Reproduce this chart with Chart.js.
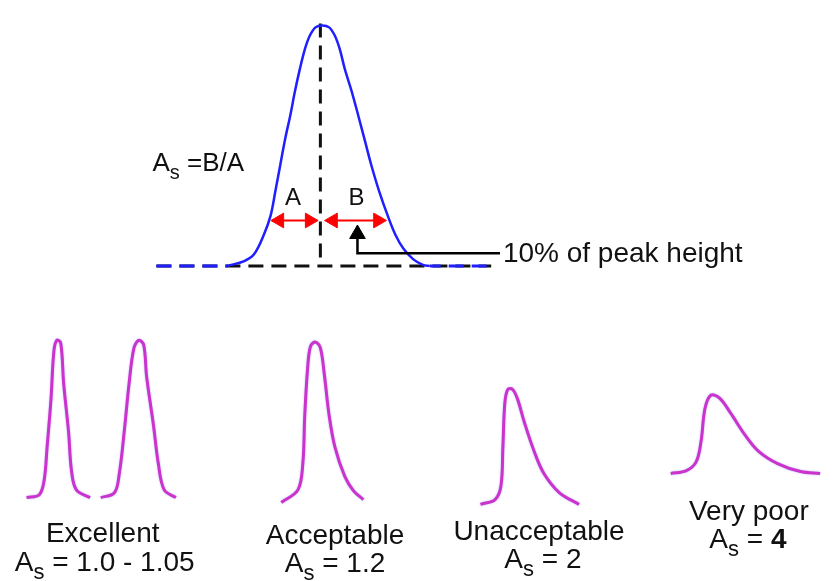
<!DOCTYPE html>
<html>
<head>
<meta charset="utf-8">
<script src="https://cdn.jsdelivr.net/npm/chart.js@4.4.0/dist/chart.umd.min.js"></script>
<style>
  html, body { margin: 0; padding: 0; background: #fff; }
</style>
</head>
<body>
<canvas id="peaks" width="834" height="581"></canvas>
<script>
// all values, in pixel units (y grows downward)

// reference peak (blue)
const mainPeakX = [223, 240, 250, 260, 267, 272, 277, 282, 287, 292, 297, 302, 307, 313, 320,
                   327, 333, 338, 343, 350, 357, 363, 370, 378, 387, 395, 403, 413, 423, 430];
const mainPeakY = [265, 260, 253, 233, 213, 187, 160, 133, 110, 84, 61, 41, 27, 18, 16,
                   18, 27, 41, 61, 84, 110, 133, 160, 187, 213, 233, 247, 258, 264, 265];
const tailLeftX  = [150, 223];
const tailRightX = [430, 493];
const baseY      = [265, 265];
const baselineX  = [150, 493];
const centerX    = [318, 318];
const centerY    = [14, 265];

// A / B half widths at 10% height (arrow head centres)
const arrowAX = [276, 307];
const arrowBX = [331, 377];
const arrowY  = [218, 218];

// pointer to the 10% line
const pointerX = [356, 356, 502];
const pointerY = [232, 252, 252];

// example peaks (magenta)
const excellent1X = [17, 30, 35, 38, 42, 45, 48, 52, 55, 60, 63, 68, 82];
const excellent1Y = [505, 502, 487, 453, 403, 353, 342, 345, 387, 437, 477, 497, 505];
const excellent2X = [93, 107, 112, 117, 122, 127, 132, 137, 140, 147, 152, 158, 170];
const excellent2Y = [505, 500, 480, 437, 387, 350, 342, 347, 380, 430, 470, 497, 505];
const acceptableX = [278, 295, 300, 302, 305, 308, 313, 318, 322, 327, 333, 343, 352, 362];
const acceptableY = [510, 497, 470, 420, 370, 348, 344, 350, 377, 420, 453, 483, 498, 507];
const unacceptX   = [482, 497, 503, 505, 507, 510, 515, 520, 527, 537, 547, 563, 583];
const unacceptY   = [512, 507, 493, 453, 407, 393, 393, 403, 427, 457, 480, 500, 512];
const veryPoorX   = [677, 693, 703, 708, 712, 718, 727, 738, 753, 767, 787, 810, 830];
const veryPoorY   = [480, 477, 468, 447, 413, 399, 402, 417, 440, 457, 470, 478, 480];

// captions
const captions = [
  { x: 146, y: 167, align: 'left',   size: 26, segs: [['A'], ['s', 'sub'], [' =B/A']] },
  { x: 290, y: 202, align: 'center', size: 24, segs: [['A']] },
  { x: 355, y: 202, align: 'center', size: 24, segs: [['B']] },
  { x: 505, y: 261, align: 'left',   size: 28, segs: [['10% of peak height']] },
  { x: 95,  y: 551, align: 'center', size: 28, segs: [['Excellent']] },
  { x: 97,  y: 581, align: 'center', size: 28, segs: [['A'], ['s', 'sub'], [' = 1.0 - 1.05']] },
  { x: 333, y: 553, align: 'center', size: 28, segs: [['Acceptable']] },
  { x: 333, y: 582, align: 'center', size: 28, segs: [['A'], ['s', 'sub'], [' = 1.2']] },
  { x: 542, y: 549, align: 'center', size: 28, segs: [['Unacceptable']] },
  { x: 546, y: 578, align: 'center', size: 28, segs: [['A'], ['s', 'sub'], [' = 2']] },
  { x: 757, y: 528, align: 'center', size: 28, segs: [['Very poor']] },
  { x: 756, y: 557, align: 'center', size: 28, segs: [['A'], ['s', 'sub'], [' = '], ['4', 'bold']] }
];

const BLUE = '#1f1fff';
const MAGENTA = '#cc33cc';
const FONT = '"Liberation Sans", Arial, sans-serif';

const pts = (xs, ys) => xs.map((x, i) => ({ x, y: ys[i] }));

const line = (data, color, width, extra = {}) => Object.assign({
  data, showLine: true, borderColor: color, backgroundColor: color,
  borderWidth: width, pointRadius: 0, pointHoverRadius: 0, fill: false, tension: 0
}, extra);

const smooth = { tension: 0.35 };
const magenta = data => line(data, MAGENTA, 3, Object.assign({ glow: true }, smooth));

const glowPlugin = {
  id: 'glow',
  beforeDatasetDraw(chart, args) {
    const ds = chart.data.datasets[args.index];
    chart.ctx.save();
    if (ds.glow) {
      chart.ctx.shadowColor = 'rgba(130, 130, 255, 0.6)';
      chart.ctx.shadowBlur = 2;
    }
  },
  afterDatasetDraw(chart) {
    chart.ctx.restore();
  }
};

const captionPlugin = {
  id: 'captions',
  afterDatasetsDraw(chart) {
    const { ctx, scales } = chart;
    ctx.save();
    ctx.fillStyle = '#111';
    ctx.textBaseline = 'alphabetic';
    ctx.textAlign = 'left';
    captions.forEach(c => {
      const fontOf = s => {
        const size = s[1] === 'sub' ? Math.round(c.size * 0.78) : c.size;
        return (s[1] === 'bold' ? 'bold ' : '') + size + 'px ' + FONT;
      };
      let total = 0;
      c.segs.forEach(s => { ctx.font = fontOf(s); total += ctx.measureText(s[0]).width; });
      let px = scales.x.getPixelForValue(c.x);
      const py = scales.y.getPixelForValue(c.y);
      if (c.align === 'center') px -= total / 2;
      c.segs.forEach(s => {
        ctx.font = fontOf(s);
        ctx.fillText(s[0], px, s[1] === 'sub' ? py + c.size * 0.28 : py);
        px += ctx.measureText(s[0]).width;
      });
    });
    ctx.restore();
  }
};

new Chart(document.getElementById('peaks'), {
  type: 'scatter',
  data: {
    datasets: [
      line(pts(arrowAX, arrowY), '#ff0000', 2, { pointStyle: 'triangle', pointRadius: 8.5, pointRotation: [270, 90], pointBorderWidth: 1 }),
      line(pts(arrowBX, arrowY), '#ff0000', 2, { pointStyle: 'triangle', pointRadius: 8.5, pointRotation: [270, 90], pointBorderWidth: 1 }),
      line(pts(pointerX, pointerY), '#000', 2.5, { pointStyle: 'triangle', pointRadius: [9, 0, 0], pointRotation: 0, pointBorderWidth: 1 }),
      line(pts(mainPeakX, mainPeakY), BLUE, 2.5, smooth),
      line(pts(tailLeftX, baseY), BLUE, 3, { borderDash: [15, 8] }),
      line(pts(tailRightX, baseY), BLUE, 3, { borderDash: [15, 8], borderDashOffset: 4 }),
      line(pts(centerX, centerY), '#111', 3, { borderDash: [14, 8] }),
      line(pts(baselineX, baseY), '#111', 3, { borderDash: [15, 8] }),
      magenta(pts(excellent1X, excellent1Y)),
      magenta(pts(excellent2X, excellent2Y)),
      magenta(pts(acceptableX, acceptableY)),
      magenta(pts(unacceptX, unacceptY)),
      magenta(pts(veryPoorX, veryPoorY))
    ]
  },
  options: {
    responsive: false,
    animation: false,
    layout: { padding: 0 },
    plugins: { legend: { display: false }, tooltip: { enabled: false } },
    events: [],
    scales: {
      x: { type: 'linear', min: 0, max: 834, display: false },
      y: { type: 'linear', min: 0, max: 581, reverse: true, display: false }
    }
  },
  plugins: [glowPlugin, captionPlugin]
});
</script>
</body>
</html>
